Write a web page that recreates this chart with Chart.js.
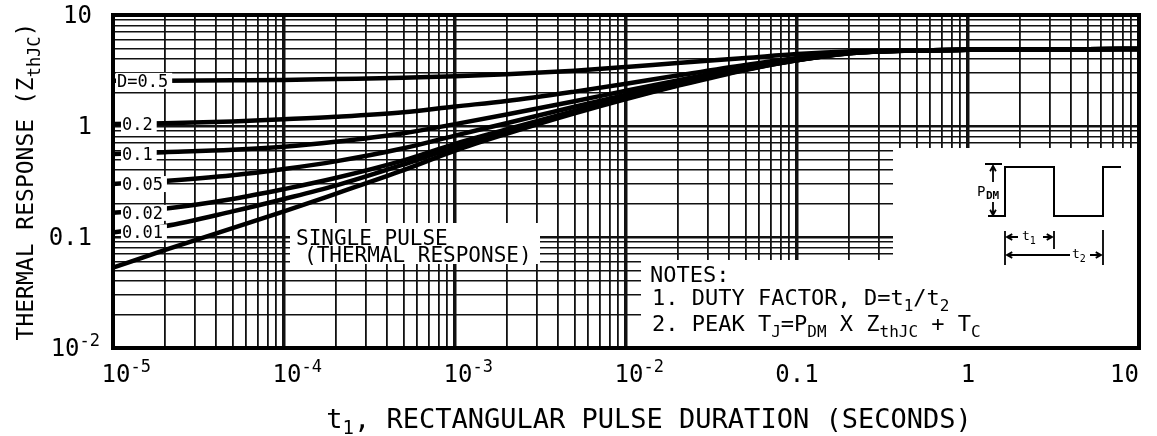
<!DOCTYPE html>
<html>
<head>
<meta charset="utf-8">
<script src="https://cdn.jsdelivr.net/npm/chart.js@4.4.0/dist/chart.umd.min.js"></script>
<style>
  html, body { margin: 0; padding: 0; background: #fff; }
</style>
</head>
<body>
<canvas id="zthChart" width="1157" height="436"></canvas>
<script>
// rectangular pulse duration t1 (s)
const pulseTimes = [1e-5, 2e-5, 5e-5, 1e-4, 2e-4, 5e-4, 1e-3, 2e-3, 5e-3, 1e-2, 2e-2, 5e-2, 0.1, 0.2, 0.5, 1, 2, 5, 10];

// thermal response ZthJC per duty factor
const zthD050 = [2.55, 2.56, 2.58, 2.6, 2.65, 2.72, 2.8, 2.92, 3.15, 3.4, 3.7, 4.1, 4.45, 4.7, 4.8, 4.86, 4.9, 4.92, 4.93];
const zthD020 = [1.04, 1.06, 1.1, 1.15, 1.21, 1.33, 1.5, 1.68, 2.04, 2.4, 2.85, 3.55, 4.1, 4.62, 4.8, 4.86, 4.9, 4.92, 4.93];
const zthD010 = [0.56, 0.58, 0.61, 0.65, 0.72, 0.86, 1.04, 1.27, 1.67, 2.08, 2.57, 3.38, 4.0, 4.58, 4.8, 4.86, 4.9, 4.92, 4.93];
const zthD005 = [0.30, 0.32, 0.36, 0.41, 0.48, 0.63, 0.82, 1.06, 1.49, 1.91, 2.44, 3.29, 3.95, 4.55, 4.8, 4.86, 4.9, 4.92, 4.93];
const zthD002 = [0.165, 0.18, 0.22, 0.27, 0.34, 0.49, 0.69, 0.93, 1.37, 1.82, 2.35, 3.24, 3.92, 4.53, 4.8, 4.86, 4.9, 4.92, 4.93];
const zthD001 = [0.11, 0.125, 0.17, 0.22, 0.29, 0.45, 0.645, 0.89, 1.34, 1.78, 2.33, 3.22, 3.91, 4.52, 4.8, 4.86, 4.9, 4.92, 4.93];
const zthSingle = [0.053, 0.076, 0.12, 0.17, 0.245, 0.4, 0.6, 0.85, 1.3, 1.75, 2.3, 3.2, 3.9, 4.5, 4.8, 4.86, 4.9, 4.92, 4.93];

const dutyLabels = ["D=0.5", "0.2", "0.1", "0.05", "0.02", "0.01"];
const dutySeries = [zthD050, zthD020, zthD010, zthD005, zthD002, zthD001];

// tick labels (base + exponent)
const xTickValues = [1e-5, 1e-4, 1e-3, 1e-2, 0.1, 1, 10];
const xTickBase = ["10", "10", "10", "10", "0.1", "1", "10"];
const xTickExp = ["-5", "-4", "-3", "-2", "", "", ""];
const yTickValues = [10, 1, 0.1, 0.01];
const yTickBase = ["10", "1", "0.1", "10"];
const yTickExp = ["", "", "", "-2"];

const FONT = '"DejaVu Sans Mono", monospace';

function logGrid(min, max) {
  const out = [];
  for (let e = Math.floor(Math.log10(min)); e <= Math.ceil(Math.log10(max)); e++) {
    for (let m = 1; m < 10; m++) {
      const v = m * Math.pow(10, e);
      if (v >= min * 0.999 && v <= max * 1.001) out.push({ value: v });
    }
  }
  return out;
}

function isDecade(v) {
  if (!v) return false;
  const l = Math.log10(v);
  return Math.abs(l - Math.round(l)) < 1e-6;
}

function runsWidth(ctx, runs, size, small) {
  let w = 0;
  runs.forEach(r => {
    ctx.font = (r.sub || r.sup ? small : size) + "px " + FONT;
    w += ctx.measureText(r.t).width;
  });
  return w;
}

function drawRuns(ctx, runs, x, y, size, small, dy) {
  runs.forEach(r => {
    ctx.font = (r.sub || r.sup ? small : size) + "px " + FONT;
    const off = r.sub ? dy : r.sup ? -dy : 0;
    ctx.fillText(r.t, x, y + off);
    x += ctx.measureText(r.t).width;
  });
  return x;
}

function arrow(ctx, x1, y1, x2, y2) {
  // line from (x1,y1) with head at (x2,y2)
  const a = Math.atan2(y2 - y1, x2 - x1);
  ctx.beginPath();
  ctx.moveTo(x1, y1);
  ctx.lineTo(x2, y2);
  ctx.moveTo(x2 - 6 * Math.cos(a - 0.5), y2 - 6 * Math.sin(a - 0.5));
  ctx.lineTo(x2, y2);
  ctx.lineTo(x2 - 6 * Math.cos(a + 0.5), y2 - 6 * Math.sin(a + 0.5));
  ctx.stroke();
}

const overlayPlugin = {
  id: "overlay",
  afterDatasetsDraw(chart) {
    const { ctx, chartArea: a, scales } = chart;
    const xs = scales.x, ys = scales.y;
    ctx.save();
    ctx.fillStyle = "#fff";
    ctx.strokeStyle = "#000";
    ctx.textBaseline = "alphabetic";

    // blank areas for text blocks
    ctx.fillRect(290, 223, 250, 41);
    ctx.fillRect(893, 148, a.right - 893, 113);
    ctx.fillRect(641, 260, a.right - 641, a.bottom - 260);

    // duty factor labels sitting on the curves
    dutyLabels.forEach((lab, i) => {
      const yy = ys.getPixelForValue(dutySeries[i][0]);
      const x0 = a.left + (i === 0 ? 4 : 9);
      ctx.font = "17px " + FONT;
      const w = ctx.measureText(lab).width;
      ctx.fillStyle = "#fff";
      ctx.fillRect(x0 - 1, yy - 8, w + 5, 16);
      ctx.fillStyle = "#000";
      ctx.fillText(lab, x0, yy + 6);
    });

    ctx.fillStyle = "#000";
    // single pulse note
    ctx.font = "21px " + FONT;
    ctx.fillText("SINGLE PULSE", 296, 245);
    ctx.fillText("(THERMAL RESPONSE)", 304, 262);

    // notes
    ctx.font = "22px " + FONT;
    ctx.fillText("NOTES:", 650, 282);
    drawRuns(ctx, [{ t: "1. DUTY FACTOR, D=t" }, { t: "1", sub: 1 }, { t: "/t" }, { t: "2", sub: 1 }], 652, 305, 22, 16, 6);
    drawRuns(ctx, [{ t: "2. PEAK T" }, { t: "J", sub: 1 }, { t: "=P" }, { t: "DM", sub: 1 }, { t: " X Z" },
      { t: "thJC", sub: 1 }, { t: " + T" }, { t: "C", sub: 1 }], 652, 331, 22, 16, 6);

    // pulse train sketch
    ctx.lineWidth = 2;
    ctx.beginPath();
    ctx.moveTo(988, 216); ctx.lineTo(1005, 216); ctx.lineTo(1005, 167); ctx.lineTo(1054, 167);
    ctx.lineTo(1054, 216); ctx.lineTo(1103, 216); ctx.lineTo(1103, 167); ctx.lineTo(1121, 167);
    ctx.moveTo(985, 164); ctx.lineTo(1002, 164);
    ctx.stroke();
    ctx.lineWidth = 1.8;
    arrow(ctx, 993, 182, 993, 166);
    arrow(ctx, 993, 202, 993, 215);
    ctx.font = "14px " + FONT;
    ctx.fillText("P", 977, 196);
    ctx.font = "bold 11px " + FONT;
    ctx.fillText("DM", 986, 199);
    // t1 / t2 dimensions
    ctx.beginPath();
    ctx.moveTo(1005, 231); ctx.lineTo(1005, 265);
    ctx.moveTo(1054, 231); ctx.lineTo(1054, 249);
    ctx.moveTo(1103, 230); ctx.lineTo(1103, 265);
    ctx.stroke();
    arrow(ctx, 1018, 237, 1007, 237);
    arrow(ctx, 1043, 237, 1052, 237);
    arrow(ctx, 1070, 255, 1007, 255);
    arrow(ctx, 1090, 255, 1101, 255);
    drawRuns(ctx, [{ t: "t" }, { t: "1", sub: 1 }], 1022, 240, 13, 10, 4);
    drawRuns(ctx, [{ t: "t" }, { t: "2", sub: 1 }], 1072, 258, 13, 10, 4);

    // x tick labels
    xTickValues.forEach((v, i) => {
      const px = xs.getPixelForValue(v);
      ctx.font = "24px " + FONT;
      const bw = ctx.measureText(xTickBase[i]).width;
      let x0 = px - bw / 2 + (xTickExp[i] ? 3 : 0);
      if (i === xTickValues.length - 1) x0 = a.right - bw;
      drawRuns(ctx, [{ t: xTickBase[i] }, { t: xTickExp[i], sup: 1 }], x0, 382, 24, 17, 10);
    });
    // y tick labels
    yTickValues.forEach((v, i) => {
      const py = ys.getPixelForValue(v);
      const runs = [{ t: yTickBase[i] }, { t: yTickExp[i], sup: 1 }];
      const w = runsWidth(ctx, runs, 24, 17);
      const right = yTickExp[i] ? 100 : 92;
      drawRuns(ctx, runs, right - w, Math.max(py + 8, 23), 24, 17, 10);
    });

    // axis titles
    const xt = [{ t: "t" }, { t: "1", sub: 1 }, { t: ", RECTANGULAR PULSE DURATION (SECONDS)" }];
    const xw = runsWidth(ctx, xt, 27, 19);
    drawRuns(ctx, xt, 649 - xw / 2, 428, 27, 19, 6);

    const yt = [{ t: "THERMAL RESPONSE (Z" }, { t: "thJC", sub: 1 }, { t: ")" }];
    const yw = runsWidth(ctx, yt, 23, 17);
    ctx.save();
    ctx.translate(33, (a.top + a.bottom) / 2);
    ctx.rotate(-Math.PI / 2);
    drawRuns(ctx, yt, -yw / 2, 0, 23, 17, 7);
    ctx.restore();

    // heavy frame
    ctx.lineWidth = 4;
    ctx.strokeRect(a.left, a.top, a.right - a.left, a.bottom - a.top);
    ctx.restore();
  }
};

const allSeries = dutySeries.concat([zthSingle]);

const ctx = document.getElementById("zthChart");
new Chart(ctx, {
  type: "line",
  data: {
    datasets: allSeries.map((vals, i) => ({
      label: i < dutyLabels.length ? dutyLabels[i] : "SINGLE PULSE",
      data: pulseTimes.map((t, k) => ({ x: t, y: vals[k] })),
      borderColor: "#000",
      borderWidth: 4.5,
      pointRadius: 0,
      fill: false,
      cubicInterpolationMode: "monotone"
    }))
  },
  options: {
    responsive: false,
    animation: false,
    devicePixelRatio: 1,
    layout: { padding: { left: 113, right: 18, top: 15, bottom: 88 } },
    plugins: { legend: { display: false }, tooltip: { enabled: false } },
    scales: {
      x: {
        type: "logarithmic",
        min: 1e-5,
        max: 10,
        afterBuildTicks: (s) => { s.ticks = logGrid(1e-5, 10); },
        ticks: { display: false },
        border: { display: false },
        grid: {
          color: "#111",
          drawTicks: false,
          lineWidth: (c) => (c.tick && isDecade(c.tick.value) ? 3.5 : 1.8)
        }
      },
      y: {
        type: "logarithmic",
        min: 0.01,
        max: 10,
        afterBuildTicks: (s) => { s.ticks = logGrid(0.01, 10); },
        ticks: { display: false },
        border: { display: false },
        grid: {
          color: "#111",
          drawTicks: false,
          lineWidth: (c) => (c.tick && isDecade(c.tick.value) ? 2.4 : 1.6)
        }
      }
    }
  },
  plugins: [overlayPlugin]
});
</script>
</body>
</html>
